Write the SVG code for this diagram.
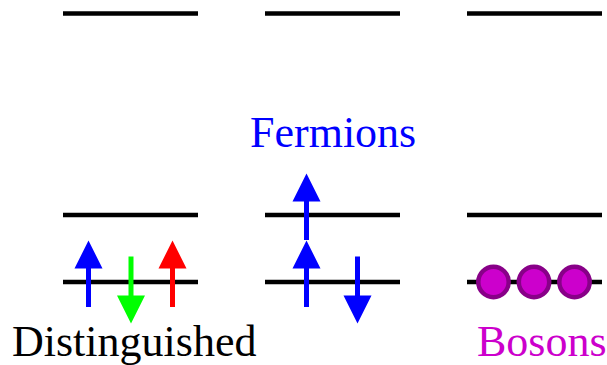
<svg xmlns="http://www.w3.org/2000/svg" width="607" height="365" viewBox="0 0 607 365">
<style>
.lvl{stroke:#000;stroke-width:4.5;fill:none}
.shaft{stroke-width:5;fill:none}
.lbl{font-family:"Liberation Serif","Times New Roman",serif;font-size:44px}
.boson{fill:#CC00CC;stroke:#880088;stroke-width:4.5}
</style>
<rect width="607" height="365" fill="#fff"/>
<g id="levels">
<line class="lvl" x1="63" y1="13.5" x2="198" y2="13.5"/>
<line class="lvl" x1="265" y1="13.5" x2="400" y2="13.5"/>
<line class="lvl" x1="467" y1="13.5" x2="602" y2="13.5"/>
<line class="lvl" x1="63" y1="215" x2="198" y2="215"/>
<line class="lvl" x1="265" y1="215" x2="400" y2="215"/>
<line class="lvl" x1="467" y1="215" x2="602" y2="215"/>
<line class="lvl" x1="63" y1="282" x2="198" y2="282"/>
<line class="lvl" x1="265" y1="282" x2="400" y2="282"/>
<line class="lvl" x1="467" y1="282" x2="602" y2="282"/>
</g>
<g id="distinguished">
<line class="shaft" stroke="#0000FF" x1="88.5" y1="307" x2="88.5" y2="266"/>
<polygon fill="#0000FF" points="88.5,240.5 102.5,268.5 74.5,268.5"/>
<line class="shaft" stroke="#00FF00" x1="131" y1="256.5" x2="131" y2="298"/>
<polygon fill="#00FF00" points="131,323.5 145,295.5 117,295.5"/>
<line class="shaft" stroke="#FF0000" x1="172.5" y1="307" x2="172.5" y2="266"/>
<polygon fill="#FF0000" points="172.5,240.5 186.5,268.5 158.5,268.5"/>
<text class="lbl" x="12" y="355.5" fill="#000">Distinguished</text>
</g>
<g id="fermions">
<line class="shaft" stroke="#0000FF" x1="306.5" y1="240" x2="306.5" y2="199"/>
<polygon fill="#0000FF" points="306.5,173.5 320.5,201.5 292.5,201.5"/>
<line class="shaft" stroke="#0000FF" x1="306.5" y1="307" x2="306.5" y2="266"/>
<polygon fill="#0000FF" points="306.5,240.5 320.5,268.5 292.5,268.5"/>
<line class="shaft" stroke="#0000FF" x1="357.5" y1="256.5" x2="357.5" y2="298"/>
<polygon fill="#0000FF" points="357.5,323.5 371.5,295.5 343.5,295.5"/>
<text class="lbl" x="250" y="147" fill="#0000FF">Fermions</text>
</g>
<g id="bosons">
<circle class="boson" cx="493.5" cy="282" r="15.2"/>
<circle class="boson" cx="534" cy="282" r="15.2"/>
<circle class="boson" cx="574.5" cy="282" r="15.2"/>
<text class="lbl" x="477" y="355.5" fill="#CC00CC">Bosons</text>
</g>
</svg>
